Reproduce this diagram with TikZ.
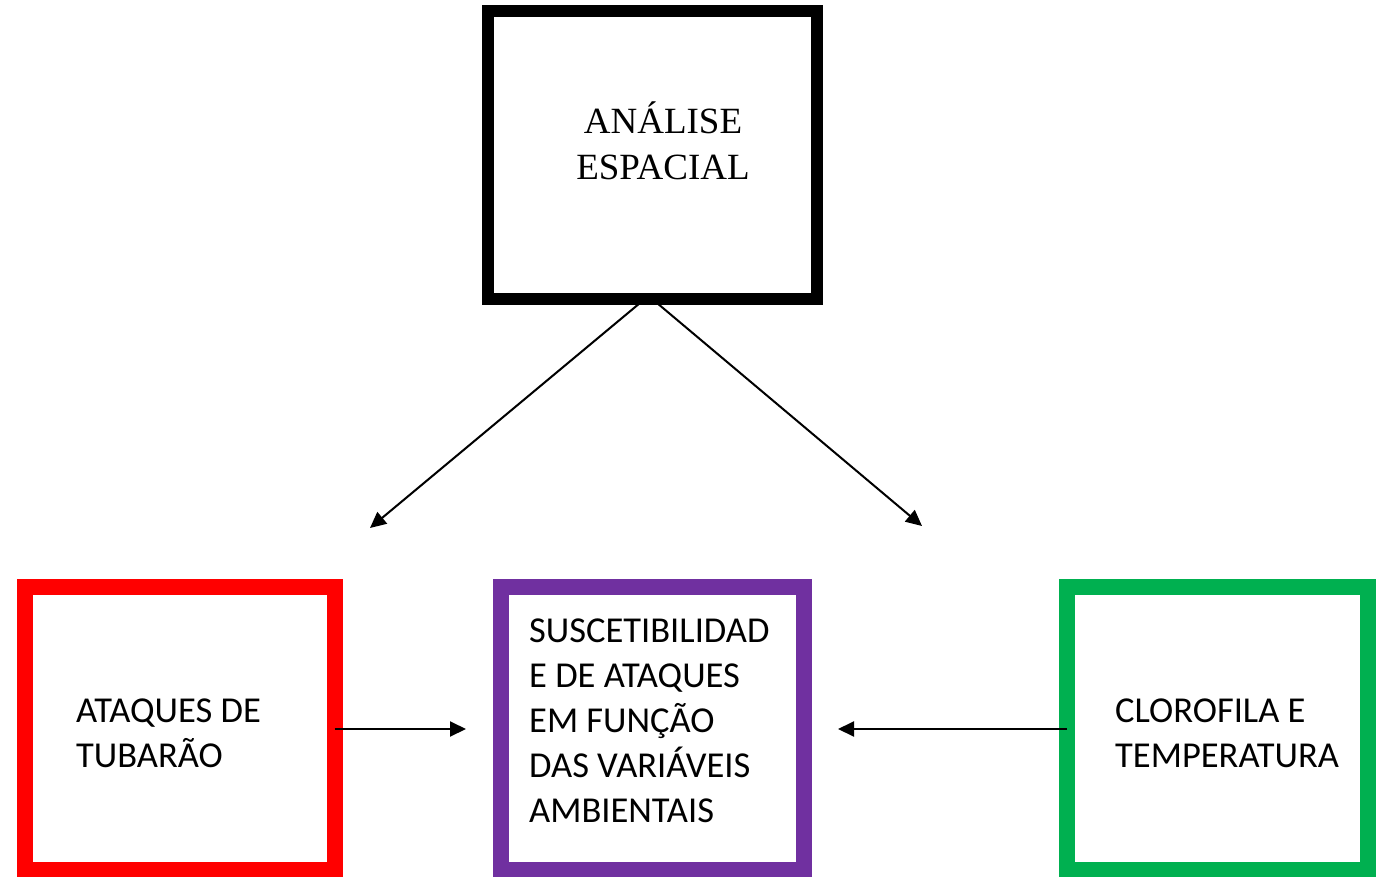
\documentclass[tikz,border=0pt]{standalone}
\usepackage{fontspec}
\setmainfont{Liberation Serif}
\newfontfamily\calib{Carlito}
\usetikzlibrary{arrows.meta}
\definecolor{boxred}{HTML}{FF0000}
\definecolor{boxpurple}{HTML}{7030A0}
\definecolor{boxgreen}{HTML}{00B050}
\begin{document}
\begin{tikzpicture}[x=1pt,y=-1pt,
  box/.style={draw, rectangle, inner sep=0pt, outer sep=0pt, line width=16pt},
  lbl/.style={anchor=base west, align=left, inner sep=0pt, font=\calib\fontsize{36.5}{45}\selectfont},
  conn/.style={line width=2pt, -{Triangle[length=16pt,width=15pt]}}]
\useasboundingbox (0,0) rectangle (1378,877);
% boxes
\node[box, line width=12pt, minimum width=329pt, minimum height=287pt] (top) at (652.5,155) {};
\node[box, draw=boxred, minimum width=309.5pt, minimum height=283pt] (ataques) at (179.75,728.5) {};
\node[box, draw=boxpurple, minimum width=303pt, minimum height=283pt] (susc) at (652.5,728.5) {};
\node[box, draw=boxgreen, minimum width=301.5pt, minimum height=283pt] (cloro) at (1217.3,728.5) {};
% texts (base anchor = baseline of last line)
\node[anchor=base, align=center, inner sep=0pt, font=\fontsize{37}{46}\selectfont] (toptxt) at (663,180) {ANÁLISE\\ESPACIAL};
\node[lbl] (atxt) at (76,767) {ATAQUES DE\\TUBARÃO};
\node[lbl] (stxt) at (529,822) {SUSCETIBILIDAD\\E DE ATAQUES\\EM FUNÇÃO\\DAS VARIÁVEIS\\AMBIENTAIS};
\node[lbl] (ctxt) at (1115,767) {CLOROFILA E\\TEMPERATURA};
% connector ends
\coordinate (l0) at (640,303);
\coordinate (r0) at (657,303);
\coordinate (lt) at (370,528);
\coordinate (rt) at (922,526);
\coordinate (a1) at (466,729);
\coordinate (a2) at (838,729);
\draw[conn] (l0) -- (lt);
\draw[conn] (r0) -- (rt);
\draw[conn] (ataques.east |- a1) -- (a1);
\draw[conn] (cloro.west |- a2) -- (a2);
\end{tikzpicture}
\end{document}
